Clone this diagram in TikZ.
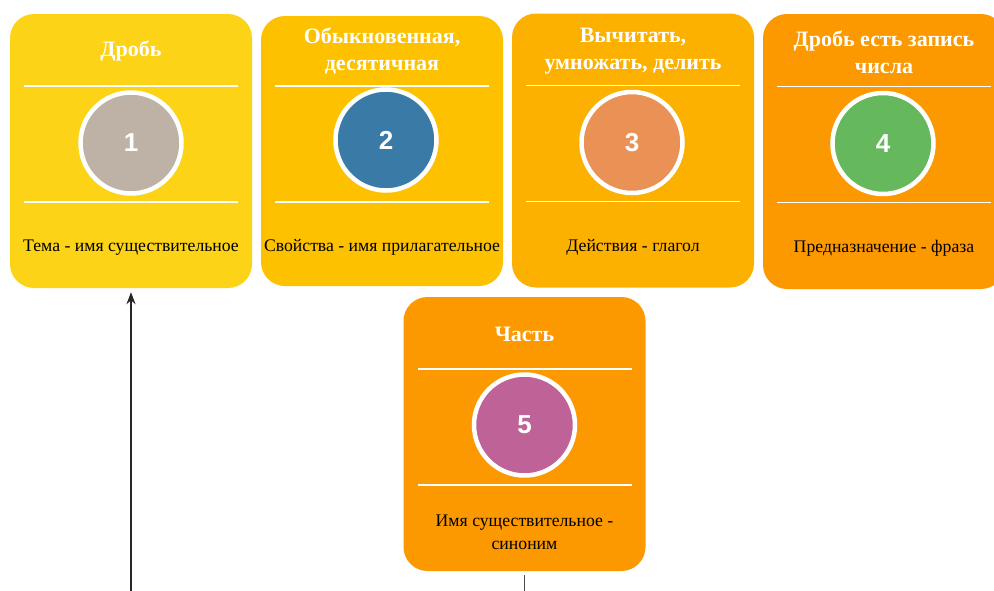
\documentclass[tikz,border=0pt]{standalone}
\usepackage{fontspec}
\setmainfont{Liberation Serif}
\setsansfont{Liberation Sans}
\usetikzlibrary{arrows.meta, positioning, calc}
\definecolor{cardyellow}{RGB}{252,211,23}
\definecolor{cardgold}{RGB}{253,193,0}
\definecolor{cardamber}{RGB}{252,176,0}
\definecolor{cardorange}{RGB}{252,153,0}
\definecolor{dotgrey}{RGB}{190,178,166}
\definecolor{dotblue}{RGB}{58,122,166}
\definecolor{dotpeach}{RGB}{234,146,85}
\definecolor{dotgreen}{RGB}{102,184,92}
\definecolor{dotplum}{RGB}{190,98,152}

\begin{document}
\begin{tikzpicture}[
  x=1pt, y=-1pt,
  card/.style={rectangle, rounded corners=24pt, minimum width=242pt,
               minimum height=274pt, inner sep=0pt},
  num/.style={circle, draw=white, line width=4.5pt, minimum size=101pt,
              font=\sffamily\bfseries\fontsize{26}{26}\selectfont, text=white},
  title/.style={font=\bfseries\fontsize{22}{27}\selectfont, text=white, align=center},
  caption/.style={font=\fontsize{17.7}{23}\selectfont, align=center},
  rule/.style={white, line width=1.6pt},
  arrow/.style={-{Stealth[length=12pt,width=9pt]}, line width=1.1pt, black!85},
]
  \useasboundingbox (0,0) rectangle (994,590);

  \node[card, fill=cardyellow] (c1) at (131,151) {};
  \node[card, fill=cardgold, minimum height=270pt] (c2) at (382,151) {};
  \node[card, fill=cardamber] (c3) at (633,150.5) {};
  \node[card, fill=cardorange, minimum height=275pt] (c4) at (884,151.5) {};
  \node[card, fill=cardorange] (c5) at (524.5,434) {};

  % titles
  \node[title] (t1) at ($(c1.center)+(0,-100)$) {Дробь};
  \node[title] (t2) at ($(c2.center)+(0,-100)$) {Обыкновенная,\\десятичная};
  \node[title] (t3) at ($(c3.center)+(0,-99)$) {Вычитать,\\умножать, делить};
  \node[title] (t4) at ($(c4.center)+(0,-99)$) {Дробь есть запись\\числа};
  \node[title] (t5) at ($(c5.center)+(0,-100)$) {Часть};

  % rules
  \foreach \c in {c1,c2,c3,c4,c5}{
    \draw[rule] ($(\c.center)+(-107,-65)$) -- ($(\c.center)+(107,-65)$);
    \draw[rule] ($(\c.center)+(-107,51)$) -- ($(\c.center)+(107,51)$);
  }

  % numbers
  \node[num, fill=dotgrey]  (n1) at ($(c1.center)+(0,-8)$)  {1};
  \node[num, fill=dotblue]  (n2) at ($(c2.center)+(4,-11)$) {2};
  \node[num, fill=dotpeach] (n3) at ($(c3.center)+(-1,-8)$) {3};
  \node[num, fill=dotgreen] (n4) at ($(c4.center)+(-1,-8)$) {4};
  \node[num, fill=dotplum]  (n5) at ($(c5.center)+(0,-9)$)  {5};

  % captions
  \node[caption] (k1) at ($(c1.center)+(0,97)$) {Тема - имя существительное};
  \node[caption] (k2) at ($(c2.center)+(0,96)$) {Свойства - имя прилагательное};
  \node[caption] (k3) at ($(c3.center)+(0,97)$) {Действия - глагол};
  \node[caption] (k4) at ($(c4.center)+(0,97)$) {Предназначение - фраза};
  \node[caption] (k5) at ($(c5.center)+(0,98)$) {Имя существительное -\\синоним};

  % connectors
  \coordinate (a1) at (131,595);
  \coordinate (a5) at (524.5,595);
  \draw[arrow] (a1) -- ([yshift=-4pt]c1.south);
  \draw[line width=1.1pt, black!70] ([yshift=-4pt]c5.south) -- (a5);
\end{tikzpicture}
\end{document}
